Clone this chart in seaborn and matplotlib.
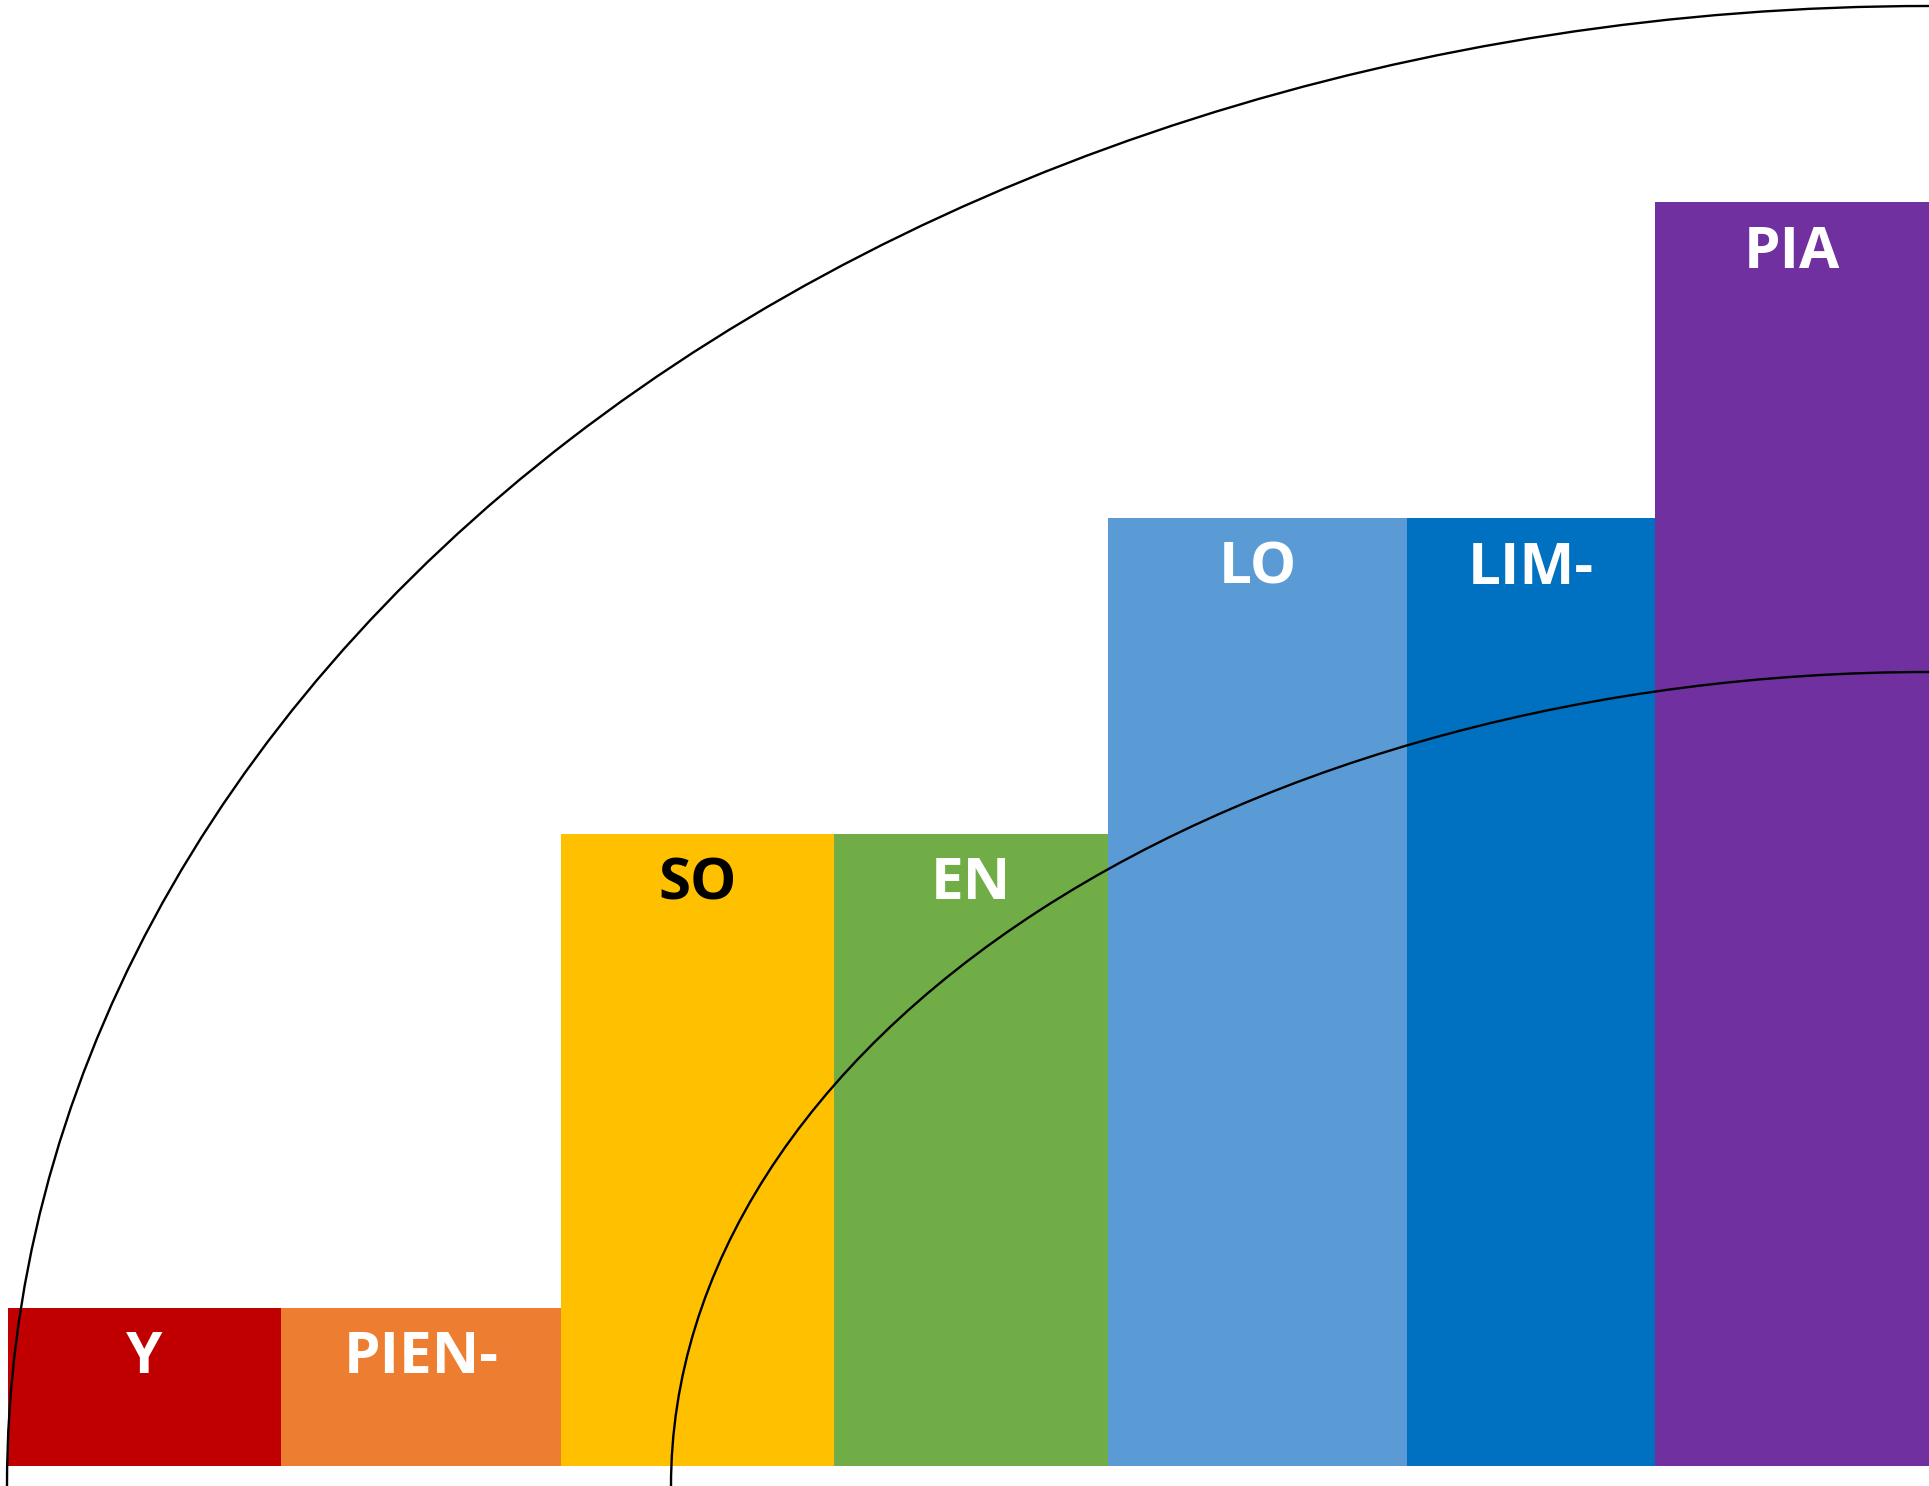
import matplotlib
matplotlib.use("Agg")
import matplotlib.pyplot as plt
from matplotlib.patches import Arc
import seaborn as sns

# bar data: labels, heights (units), widths (px-like units), colours
labels = ["Y", "PIEN-", "SO", "EN", "LO", "LIM-", "PIA"]
heights = [1, 1, 4, 4, 6, 6, 8]
widths = [273, 280, 273, 274, 299, 248, 274]
start_x = 8
colors = ["#C00000", "#ED7D31", "#FFC000", "#70AD47", "#5B9BD5", "#0070C0", "#7030A0"]
text_colors = ["white", "white", "black", "white", "white", "white", "white"]

# quarter ellipses centred on bottom-right corner (semi-axes in px)
arc_rx = [1922, 1258]
arc_ry = [1480, 814]

sns.set_theme(style="white")
plt.rcParams['font.family'] = ['Open Sans', 'DejaVu Sans']

W, H = 1929, 1486
unit = 157.9          # px per height unit
base_px = 1465.5      # pixel row (from top) of the bar baseline

fig = plt.figure(figsize=(W / 100, H / 100), dpi=100)
ax = fig.add_axes([0, 0, 1, 1])
ax.set_xlim(0, W)
ax.set_ylim(-(H - base_px) / unit, base_px / unit)
ax.axis("off")

lefts = [start_x]
for w in widths[:-1]:
    lefts.append(lefts[-1] + w)

ax.bar(lefts, heights, width=widths, align="edge", color=colors, linewidth=0, zorder=1)

for x0, w, h, lab, tc in zip(lefts, widths, heights, labels, text_colors):
    ax.text(x0 + w / 2, h - 65.5 / unit, lab, ha="center", va="baseline",
            color=tc, fontsize=42, fontweight="bold", zorder=3)

cy = -(H - base_px) / unit
for rx, ry in zip(arc_rx, arc_ry):
    ax.add_patch(Arc((W, cy), 2 * rx, 2 * ry / unit, theta1=90, theta2=180,
                     color="black", lw=1.7, zorder=2))

fig.savefig("out.png", dpi=100)
